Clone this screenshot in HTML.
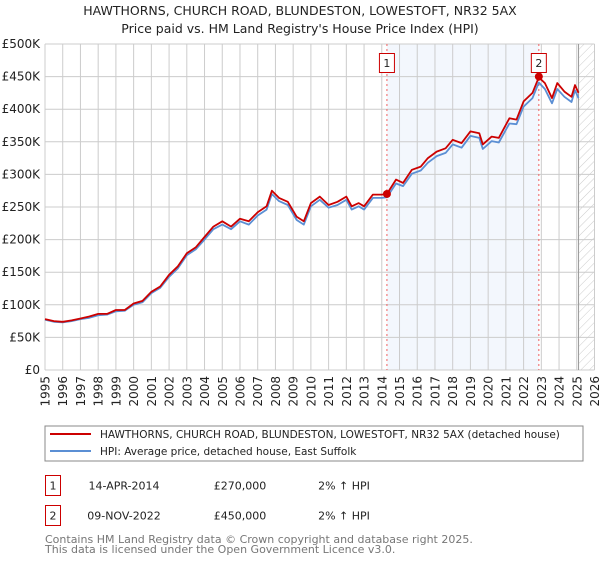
<!DOCTYPE html>
<html><head><meta charset="utf-8"><style>
body{margin:0;background:#fff;font-family:"DejaVu Sans","Liberation Sans",sans-serif}
svg text{font-family:"DejaVu Sans","Liberation Sans",sans-serif}
</style></head><body>
<svg id="c" width="600" height="560" viewBox="0 0 600 560" xmlns="http://www.w3.org/2000/svg">
<defs><pattern id="hatch" width="6" height="6" patternUnits="userSpaceOnUse" patternTransform="rotate(45)"><line x1="0" y1="0" x2="0" y2="6" stroke="#ccc" stroke-width="1"/></pattern></defs>
<text x="300" y="15" text-anchor="middle" font-size="12.5" fill="#222">HAWTHORNS, CHURCH ROAD, BLUNDESTON, LOWESTOFT, NR32 5AX</text>
<text x="300" y="33" text-anchor="middle" font-size="12.5" fill="#222">Price paid vs. HM Land Registry's House Price Index (HPI)</text>
<g id="plot"></g>
<rect x="45" y="426" width="538" height="35" fill="#fff" stroke="#888"/>
<line x1="50" y1="434" x2="91" y2="434" stroke="#cc0000" stroke-width="2"/>
<text x="100" y="438" font-size="10.5" fill="#222">HAWTHORNS, CHURCH ROAD, BLUNDESTON, LOWESTOFT, NR32 5AX (detached house)</text>
<line x1="50" y1="451" x2="91" y2="451" stroke="#5b8fd4" stroke-width="2"/>
<text x="100" y="455" font-size="10.5" fill="#222">HPI: Average price, detached house, East Suffolk</text>
<g>
<rect x="45.5" y="475.5" width="15" height="20" fill="#fff" stroke="#cc0000"/>
<text x="53" y="489.5" text-anchor="middle" font-size="11" fill="#222">1</text>
<text x="124" y="489.5" text-anchor="middle" font-size="11" fill="#222">14-APR-2014</text>
<text x="240" y="489.5" text-anchor="middle" font-size="11" fill="#222">£270,000</text>
<text x="344" y="489.5" text-anchor="middle" font-size="11" fill="#222">2% ↑ HPI</text>
</g>
<g>
<rect x="45.5" y="505.5" width="15" height="20" fill="#fff" stroke="#cc0000"/>
<text x="53" y="519.5" text-anchor="middle" font-size="11" fill="#222">2</text>
<text x="124" y="519.5" text-anchor="middle" font-size="11" fill="#222">09-NOV-2022</text>
<text x="240" y="519.5" text-anchor="middle" font-size="11" fill="#222">£450,000</text>
<text x="344" y="519.5" text-anchor="middle" font-size="11" fill="#222">2% ↑ HPI</text>
</g>
<text x="45" y="543" font-size="11" fill="#777">Contains HM Land Registry data © Crown copyright and database right 2025.</text>
<text x="45" y="553" font-size="11" fill="#777">This data is licensed under the Open Government Licence v3.0.</text>
</svg>
<script>
const years=[1995,1995.5,1996,1996.5,1997,1997.5,1998,1998.5,1999,1999.5,2000,2000.5,2001,2001.5,2002,2002.5,2003,2003.5,2004,2004.5,2005,2005.5,2006,2006.5,2007,2007.5,2007.8,2008.2,2008.7,2009.2,2009.6,2010,2010.5,2011,2011.5,2012,2012.3,2012.7,2013,2013.5,2014,2014.29,2014.8,2015.2,2015.7,2016.2,2016.6,2017.1,2017.6,2018,2018.5,2019,2019.5,2019.7,2020.2,2020.6,2021.2,2021.6,2022,2022.5,2022.86,2023.2,2023.6,2023.9,2024.3,2024.7,2024.9,2025.1];
const redValues=[78,75,74,76,79,82,86,86,92,92,102,106,120,128,146,159,179,188,204,220,228,220,232,228,242,251,275,264,258,235,228,256,266,253,258,266,251,256,251,269,269,270,292,287,307,312,325,335,340,353,348,366,363,346,358,356,386,384,412,425,449,440,417,440,427,419,437,425];
const blueValues=[77,74,73,75,78,80,84,85,90,91,100,104,118,126,143,156,176,185,200,216,223,216,228,223,237,246,270,259,253,230,223,251,261,249,253,261,246,251,246,264,264,265,286,282,301,306,318,328,333,346,341,359,356,339,351,349,378,377,404,417,441,431,409,431,419,411,429,417];
const yTicks=[0,50,100,150,200,250,300,350,400,450,500];
const yTickLabels=["£0","£50K","£100K","£150K","£200K","£250K","£300K","£350K","£400K","£450K","£500K"];
const xTicks=[1995,1996,1997,1998,1999,2000,2001,2002,2003,2004,2005,2006,2007,2008,2009,2010,2011,2012,2013,2014,2015,2016,2017,2018,2019,2020,2021,2022,2023,2024,2025,2026];
const saleYears=[2014.29,2022.86];
const salePrices=[270,450];
const saleLabels=["1","2"];
const shadeRange=[2014.29,2022.86];
const hatchStart=2025.1;

const L=45,R=594.5,T=44,B=370;
const X=y=>L+(y-1995)/(2026-1995)*(R-L);
const Y=v=>B-v/500*(B-T);
const NS="http://www.w3.org/2000/svg";
const g=document.getElementById('plot');
function mk(tag,attrs,parent){const e=document.createElementNS(NS,tag);for(const k in attrs)e.setAttribute(k,attrs[k]);(parent||g).appendChild(e);return e;}

const sh=mk('rect',{x:X(shadeRange[0]),y:T,width:X(shadeRange[1])-X(shadeRange[0]),height:B-T,fill:'#eef3fc',opacity:0.7});


const ht=mk('rect',{x:X(hatchStart),y:T,width:R-X(hatchStart),height:B-T,fill:'url(#hatch)'});



yTicks.forEach((v,i)=>{
  const l=mk('line',{x1:L,x2:R,y1:Y(v),y2:Y(v),stroke:'#ccc','stroke-width':1});
  
  
  const t=mk('text',{x:40,y:Y(v)+4,'text-anchor':'end','font-size':12,fill:'#222'});
  t.textContent=yTickLabels[i];
  
  
});
xTicks.forEach(yr=>{
  const l=mk('line',{x1:X(yr),x2:X(yr),y1:T,y2:B,stroke:'#ccc','stroke-width':1});
  
  
  const t=mk('text',{x:0,y:0,'text-anchor':'end','font-size':12,fill:'#222',transform:`translate(${X(yr)+4.5},${B+6}) rotate(-90)`});
  t.textContent=yr;
  
  
});
const vb=mk('line',{x1:X(hatchStart),x2:X(hatchStart),y1:T,y2:B,stroke:'#999','stroke-width':1});



saleYears.forEach((yr,i)=>{
  const l=mk('line',{x1:X(yr),x2:X(yr),y1:T,y2:B,stroke:'#f06060','stroke-width':1,'stroke-dasharray':'2,3'});
  
  
});

function path(vals,color,name){
  const d=years.map((yr,i)=>(i?'L':'M')+X(yr).toFixed(1)+','+Y(vals[i]).toFixed(1)).join('');
  const p=mk('path',{d:d,fill:'none',stroke:color,'stroke-width':1.8,'stroke-linejoin':'round'});
  
  
}
path(blueValues,'#5b8fd4','hpi-line');
path(redValues,'#cc0000','property-line');

saleYears.forEach((yr,i)=>{
  const c=mk('circle',{cx:X(yr),cy:Y(salePrices[i]),r:4,fill:'#cc0000'});
  
  
  const bx=mk('rect',{x:X(yr)-7.5,y:53.5,width:15,height:19,fill:'#fff',stroke:'#cc0000'});
  
  
  const t=mk('text',{x:X(yr),y:67,'text-anchor':'middle','font-size':11,fill:'#222'});
  t.textContent=saleLabels[i];
  
  
});
</script>
</body></html>
